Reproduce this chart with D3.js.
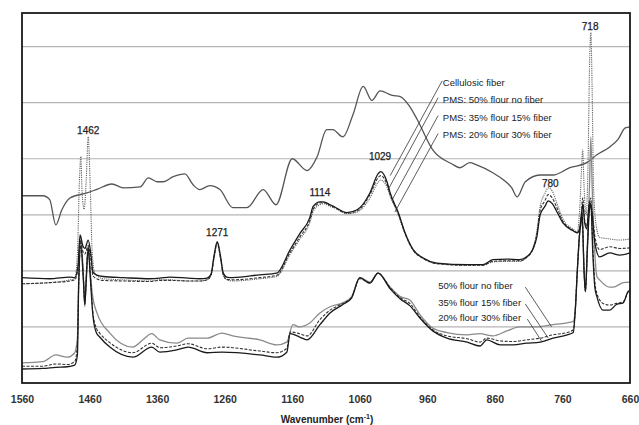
<!DOCTYPE html>
<html>
<head>
<meta charset="utf-8">
<script src="https://cdn.jsdelivr.net/npm/d3@7"></script>
<style>
  body { margin: 0; background: #fff; }
  svg { display: block; font-family: "Liberation Sans", Arial, sans-serif; }
</style>
</head>
<body>
<svg id="chart" width="639" height="425"></svg>
<script>
// spectra, [wavenumber (cm-1), absorbance (a.u., stacked)]
const cellulosic = [[1560,3.34],[1529,3.34],[1519,3.27],[1510,2.82],[1501,3.09],[1489,3.30],[1464,3.39],[1448,3.46],[1427,3.55],[1410,3.48],[1385,3.50],[1373,3.66],[1360,3.59],[1351,3.59],[1336,3.68],[1319,3.73],[1307,3.54],[1297,3.45],[1282,3.52],[1267,3.45],[1248,3.13],[1227,3.13],[1203,3.45],[1184,3.18],[1160,4.00],[1138,3.79],[1123,4.04],[1109,4.52],[1100,4.52],[1085,4.39],[1070,4.79],[1055,5.29],[1042,5.04],[1030,5.21],[1012,5.13],[1000,5.11],[986,4.93],[975,4.70],[952,4.16],[924,3.91],[912,3.84],[897,3.93],[887,3.89],[863,3.75],[848,3.63],[835,3.48],[827,3.32],[815,3.59],[793,3.71],[774,3.71],[749,3.84],[724,3.93],[709,4.07],[690,4.21],[678,4.34],[667,4.55],[660,4.57]];

const pms50 = [[1560,1.88],[1519,1.86],[1489,1.89],[1482,1.88],[1477,2.10],[1474,2.64],[1470,2.45],[1467,2.40],[1462,2.55],[1458,2.30],[1455,1.98],[1450,1.93],[1440,1.90],[1410,1.88],[1371,1.86],[1356,1.87],[1341,1.89],[1314,1.87],[1297,1.86],[1286,1.87],[1280,1.95],[1276,2.25],[1271,2.52],[1266,2.25],[1262,1.96],[1257,1.89],[1248,1.88],[1208,1.93],[1183,1.96],[1163,2.38],[1149,2.66],[1134,2.95],[1129,3.15],[1119,3.23],[1114,3.23],[1104,3.18],[1097,3.14],[1079,3.04],[1064,3.09],[1045,3.39],[1033,3.73],[1029,3.77],[1020,3.60],[1015,3.39],[1003,3.04],[993,2.68],[981,2.38],[966,2.23],[946,2.14],[901,2.11],[878,2.11],[863,2.20],[842,2.21],[823,2.20],[813,2.25],[804,2.38],[798,2.60],[793,3.00],[786,3.15],[781,3.25],[775,3.20],[768,3.05],[759,2.85],[745,2.72],[738,2.68],[733,2.80],[730,3.20],[727,2.85],[724,2.75],[720,3.20],[717,3.10],[712,2.50],[705,2.25],[690,2.32],[675,2.28],[660,2.32]];

const pms35 = [[1560,1.77],[1519,1.79],[1489,1.82],[1482,1.84],[1477,2.05],[1474,2.55],[1470,2.35],[1467,2.30],[1462,2.45],[1458,2.20],[1455,1.92],[1450,1.86],[1440,1.83],[1410,1.82],[1371,1.81],[1356,1.83],[1341,1.83],[1314,1.82],[1297,1.82],[1286,1.84],[1280,1.93],[1276,2.22],[1271,2.50],[1266,2.22],[1262,1.93],[1257,1.85],[1248,1.84],[1208,1.88],[1183,1.92],[1163,2.33],[1149,2.60],[1134,2.90],[1129,3.10],[1119,3.21],[1114,3.22],[1104,3.17],[1097,3.13],[1079,3.03],[1064,3.07],[1045,3.36],[1033,3.66],[1029,3.70],[1020,3.55],[1015,3.36],[1003,3.02],[993,2.67],[981,2.37],[966,2.22],[946,2.13],[901,2.10],[878,2.10],[863,2.17],[842,2.18],[823,2.18],[813,2.24],[804,2.38],[798,2.65],[793,3.08],[786,3.25],[781,3.36],[775,3.30],[768,3.12],[759,2.88],[745,2.73],[738,2.68],[733,2.85],[730,3.30],[727,2.90],[724,2.80],[720,3.25],[717,3.15],[712,2.62],[705,2.38],[690,2.43],[675,2.40],[660,2.41]];

const pms20 = [[1560,1.77],[1519,1.79],[1489,1.84],[1482,1.86],[1478,2.30],[1475,3.60],[1473,4.04],[1471,3.40],[1468,3.10],[1465,3.60],[1462,4.39],[1459,3.50],[1456,2.30],[1452,1.95],[1440,1.86],[1410,1.84],[1371,1.82],[1356,1.84],[1341,1.84],[1314,1.82],[1297,1.82],[1286,1.84],[1280,1.93],[1276,2.20],[1271,2.48],[1266,2.20],[1262,1.92],[1257,1.84],[1248,1.82],[1208,1.86],[1183,1.90],[1163,2.30],[1149,2.56],[1134,2.86],[1129,3.06],[1119,3.18],[1114,3.20],[1104,3.15],[1097,3.12],[1079,3.02],[1064,3.05],[1045,3.30],[1033,3.58],[1029,3.62],[1020,3.50],[1015,3.33],[1003,3.00],[993,2.66],[981,2.37],[966,2.22],[946,2.13],[901,2.10],[878,2.10],[863,2.16],[842,2.17],[823,2.17],[813,2.24],[804,2.40],[798,2.70],[793,3.15],[786,3.38],[781,3.48],[775,3.42],[768,3.20],[759,2.92],[745,2.75],[738,2.70],[734,3.20],[731,4.00],[730,4.16],[728,3.50],[725,3.00],[722,4.00],[720,5.60],[718,6.25],[716,5.20],[714,3.50],[710,2.80],[705,2.60],[690,2.57],[675,2.55],[660,2.57]];

const flour50 = [[1560,0.36],[1529,0.38],[1510,0.50],[1493,0.46],[1482,0.54],[1478,0.80],[1476,1.90],[1473,2.55],[1469,1.90],[1467,1.36],[1465,1.90],[1462,2.46],[1459,2.00],[1456,1.60],[1449,1.25],[1430,0.89],[1396,0.64],[1381,0.77],[1368,0.88],[1356,0.77],[1331,0.71],[1314,0.80],[1286,0.80],[1264,0.89],[1248,0.84],[1208,0.77],[1183,0.68],[1168,0.73],[1159,1.04],[1149,1.00],[1134,1.07],[1119,1.25],[1104,1.36],[1085,1.43],[1072,1.54],[1060,1.88],[1045,1.80],[1033,1.96],[1015,1.71],[1000,1.54],[986,1.48],[971,1.22],[952,0.98],[931,0.90],[901,0.86],[882,0.88],[863,0.84],[842,0.93],[823,1.00],[800,1.00],[774,1.04],[755,1.07],[744,1.10],[741,1.30],[738,2.00],[735,2.60],[731,3.10],[728,2.00],[726,1.63],[723,2.50],[720,3.50],[718,4.39],[716,3.50],[712,2.30],[709,1.90],[705,1.84],[690,1.71],[685,1.71],[670,1.79],[660,1.80]];

const flour35 = [[1560,0.30],[1529,0.30],[1510,0.34],[1493,0.33],[1482,0.38],[1478,0.70],[1476,1.80],[1473,2.50],[1469,1.85],[1467,1.40],[1465,1.85],[1462,2.42],[1459,1.95],[1455,1.25],[1450,0.98],[1445,0.89],[1430,0.72],[1396,0.54],[1368,0.71],[1356,0.63],[1331,0.66],[1314,0.70],[1286,0.61],[1264,0.64],[1208,0.57],[1183,0.54],[1168,0.62],[1163,0.91],[1149,0.88],[1138,0.84],[1119,1.13],[1104,1.30],[1085,1.42],[1072,1.53],[1060,1.86],[1045,1.79],[1033,1.96],[1015,1.70],[1000,1.52],[986,1.42],[971,1.18],[952,0.95],[931,0.84],[901,0.79],[882,0.73],[872,0.80],[852,0.75],[833,0.74],[813,0.77],[793,0.80],[774,0.86],[753,0.90],[744,0.95],[741,1.30],[738,2.00],[735,2.60],[731,3.05],[728,2.00],[726,1.63],[723,2.45],[720,3.20],[718,3.30],[715,2.40],[712,1.80],[709,1.60],[700,1.42],[690,1.39],[680,1.42],[670,1.45],[663,1.62],[660,1.68]];

const flour20 = [[1560,0.25],[1529,0.26],[1510,0.28],[1493,0.29],[1482,0.32],[1478,0.50],[1476,1.80],[1473,2.45],[1469,1.80],[1467,1.40],[1465,1.80],[1462,2.40],[1459,1.90],[1455,1.20],[1450,0.90],[1445,0.82],[1430,0.64],[1396,0.46],[1368,0.64],[1356,0.55],[1331,0.59],[1314,0.64],[1286,0.54],[1264,0.55],[1208,0.50],[1183,0.46],[1168,0.55],[1163,0.88],[1149,0.82],[1138,0.77],[1119,1.04],[1104,1.25],[1085,1.40],[1072,1.52],[1060,1.88],[1045,1.78],[1033,1.96],[1015,1.68],[1000,1.50],[986,1.38],[971,1.16],[952,0.93],[931,0.80],[901,0.73],[882,0.66],[872,0.77],[852,0.68],[833,0.68],[813,0.71],[793,0.73],[774,0.80],[753,0.86],[744,0.90],[741,1.30],[738,2.00],[735,2.60],[731,3.00],[728,2.00],[726,1.63],[723,2.40],[720,3.10],[718,3.20],[715,2.30],[712,1.70],[709,1.54],[700,1.30],[690,1.30],[680,1.40],[670,1.43],[663,1.63],[660,1.66]];

const xTicks = [1560, 1460, 1360, 1260, 1160, 1060, 960, 860, 760, 660];
const gridValues = [1, 2, 3, 4, 5, 6];

// peak labels: [text, wavenumber, absorbance]
const peakLabels = [["1462",1462,4.45],["1271",1271,2.63],["1114",1119,3.34],["1029",1030,3.98],["780",778,3.50],["718",719,6.30]];

// legend labels and their leader lines (data coords)
const upperNames = ["Cellulosic fiber", "PMS: 50% flour no fiber", "PMS: 35% flour 15% fiber", "PMS: 20% flour 30% fiber"];
const upperText = [[937,5.29],[937,5.00],[937,4.68],[937,4.375]];
const upperLeaders = [[938,5.39,1015,3.70],[944,5.09,1018,3.45],[944,4.77,1012,3.27],[944,4.45,1008,3.05]];
const lowerNames = ["50% flour no fiber", "35% flour 15% fiber", "20% flour 30% fiber"];
const lowerText = [[944,1.68],[944,1.375],[944,1.11]];
const lowerLeaders = [[815,1.71,776,1.00],[815,1.41,781,0.80],[812,1.14,790,0.73]];

const series = [
  { data: cellulosic, color: "#555", width: 1.3, dash: null },
  { data: flour50, color: "#8a8a8a", width: 1.3, dash: null },
  { data: flour35, color: "#333", width: 1.1, dash: "3,1.5" },
  { data: flour20, color: "#1a1a1a", width: 1.3, dash: null },
  { data: pms20, color: "#666", width: 1.1, dash: "1.2,1" },
  { data: pms35, color: "#333", width: 1.1, dash: "3,1.5" },
  { data: pms50, color: "#1a1a1a", width: 1.3, dash: null }
];

const plotLeft = 22, plotRight = 630, plotTop = 13, plotBottom = 383;

const svg = d3.select("#chart");

const x = d3.scaleLinear().domain([1560, 660]).range([plotLeft, plotRight]);
const y = d3.scaleLinear().domain([0, 6.6]).range([plotBottom, plotTop]);

// gridlines
svg.append("g")
  .selectAll("line")
  .data(gridValues)
  .join("line")
  .attr("x1", plotLeft).attr("x2", plotRight)
  .attr("y1", d => y(d)).attr("y2", d => y(d))
  .attr("stroke", "#b4b4b4")
  .attr("stroke-width", 1.2);

const line = d3.line()
  .x(d => x(d[0]))
  .y(d => y(d[1]))
  .curve(d3.curveMonotoneX);

svg.append("defs").append("clipPath").attr("id", "clip")
  .append("rect").attr("x", plotLeft).attr("y", plotTop)
  .attr("width", plotRight - plotLeft).attr("height", plotBottom - plotTop);

svg.append("g")
  .attr("clip-path", "url(#clip)")
  .selectAll("path")
  .data(series)
  .join("path")
  .attr("d", d => line(d.data))
  .attr("fill", "none")
  .attr("stroke", d => d.color)
  .attr("stroke-width", d => d.width)
  .attr("stroke-dasharray", d => d.dash)
  .attr("stroke-linejoin", "round");

// frame
svg.append("rect")
  .attr("x", plotLeft).attr("y", plotTop)
  .attr("width", plotRight - plotLeft).attr("height", plotBottom - plotTop)
  .attr("fill", "none")
  .attr("stroke", "#1a1a1a")
  .attr("stroke-width", 1.8);

// x axis labels
const xAxis = d3.axisBottom(x).tickValues(xTicks).tickSize(0).tickPadding(13).tickFormat(d3.format("d"));
const gx = svg.append("g").attr("transform", `translate(0,${plotBottom})`).call(xAxis);
gx.select(".domain").remove();
gx.selectAll("text")
  .attr("font-size", 10.5)
  .attr("font-weight", "bold")
  .attr("fill", "#333")
  .attr("font-family", "'Liberation Sans', Arial, sans-serif");

const title = svg.append("text")
  .attr("x", 327).attr("y", 423)
  .attr("text-anchor", "middle")
  .attr("font-size", 10)
  .attr("font-weight", "bold")
  .attr("fill", "#222")
  .text("Wavenumber (cm");
title.append("tspan").attr("font-size", 7).attr("dy", -4).text("-1");
title.append("tspan").attr("dy", 4).text(")");

// peak labels
svg.append("g")
  .selectAll("text")
  .data(peakLabels)
  .join("text")
  .attr("x", d => x(d[1]))
  .attr("y", d => y(d[2]))
  .attr("text-anchor", "middle")
  .attr("font-size", 10)
  .attr("fill", "#222")
  .attr("stroke", "#222")
  .attr("stroke-width", 0.25)
  .text(d => d[0]);

// legends + leader lines
function leaders(cls, names, pos, lines) {
  const g = svg.append("g").attr("class", cls);
  g.selectAll("line")
    .data(lines)
    .join("line")
    .attr("x1", d => x(d[0])).attr("y1", d => y(d[1]))
    .attr("x2", d => x(d[2])).attr("y2", d => y(d[3]))
    .attr("stroke", "#333")
    .attr("stroke-width", 0.8);
  g.selectAll("text")
    .data(names)
    .join("text")
    .attr("x", (d, i) => x(pos[i][0]))
    .attr("y", (d, i) => y(pos[i][1]))
    .attr("font-size", 9.5)
    .attr("fill", "#222")
    .text(d => d);
}
leaders("upper", upperNames, upperText, upperLeaders);
leaders("lower", lowerNames, lowerText, lowerLeaders);
</script>
</body>
</html>
